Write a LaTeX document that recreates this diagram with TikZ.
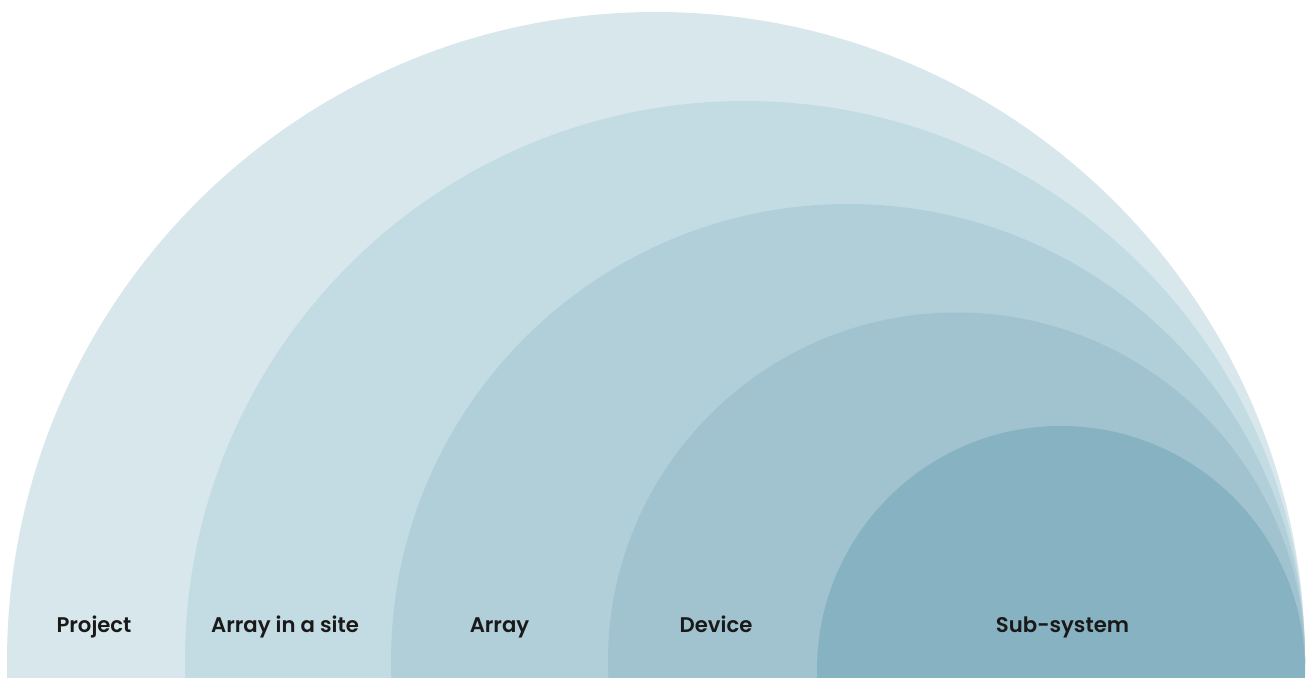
\documentclass[tikz,border=0pt]{standalone}
\usepackage{fontspec}
\setmainfont{Poppins}[BoldFont={Poppins SemiBold}]
\usepackage{tikz}

\definecolor{layerA}{HTML}{D7E7EC}
\definecolor{layerB}{HTML}{C3DCE3}
\definecolor{layerC}{HTML}{B1CFD9}
\definecolor{layerD}{HTML}{A0C3CF}
\definecolor{layerE}{HTML}{86B2C1}

\tikzset{
    ring/.style={fill, draw=none},
    tag/.style={anchor=base, font=\fontsize{10.6}{12}\selectfont\bfseries, text=black!90, inner sep=0pt}
}

\begin{document}
\begin{tikzpicture}[x=0.5pt, y=0.5pt]
        \useasboundingbox (0,0) rectangle (1309,677);
        \clip (0,0) rectangle (1309,677);

        %%LAYERS
        % Project
        \path[ring, color=layerA] (656,16) circle (649);
        % Array in a site
        \path[ring, color=layerB] (745,16) circle (560);
        % Array
        \path[ring, color=layerC] (848,16) circle (457);
        % Device
        \path[ring, color=layerD] (956.5,16) circle (348.5);
        % Sub-system
        \path[ring, color=layerE] (1061,7) circle (244);

        %%LABELS
        \node[tag] (project) at (94,45) {Project};
        \node[tag] (site) at (285,45) {Array in a site};
        \node[tag] (array) at (499.5,45) {Array};
        \node[tag] (device) at (716,45) {Device};
        \node[tag] (subsystem) at (1062.5,45) {Sub-system};

\end{tikzpicture}
\end{document}
